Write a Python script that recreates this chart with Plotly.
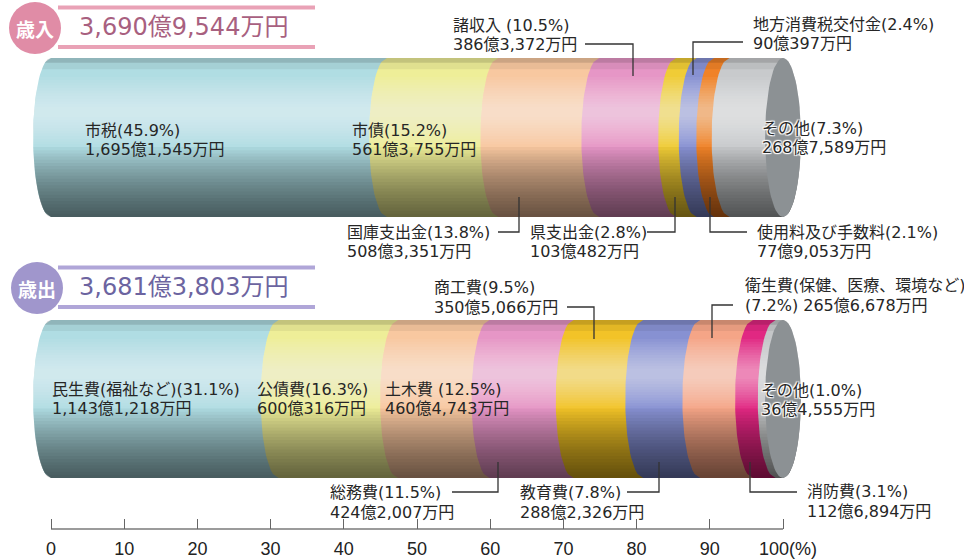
import numpy as np
import plotly.graph_objects as go

# ---------------- data ----------------
rev_title = "歳入"
rev_total = "3,690億9,544万円"
rev_names = ["市税", "市債", "国庫支出金", "諸収入 ", "県支出金", "地方消費税交付金", "使用料及び手数料", "その他"]
rev_pct = [45.9, 15.2, 13.8, 10.5, 2.8, 2.4, 2.1, 7.3]
rev_amounts = ["1,695億1,545万円", "561億3,755万円", "508億3,351万円", "386億3,372万円",
               "103億482万円", "90億397万円", "77億9,053万円", "268億7,589万円"]

exp_title = "歳出"
exp_total = "3,681億3,803万円"
exp_names = ["民生費(福祉など)", "公債費", "土木費 ", "総務費", "商工費", "教育費",
             "衛生費(保健、医療、環境など)", "消防費", "その他"]
exp_pct = [31.1, 16.3, 12.5, 11.5, 9.5, 7.8, 7.2, 3.1, 1.0]
exp_amounts = ["1,143億1,218万円", "600億316万円", "460億4,743万円", "424億2,007万円",
               "350億5,066万円", "288億2,326万円", "265億6,678万円", "112億6,894万円", "36億4,555万円"]

x_ticks = [0, 10, 20, 30, 40, 50, 60, 70, 80, 90, 100]
x_unit_label = "(%)"

# ---------------- styles / layout ----------------
W, H = 964, 559
PX0, PXU = 51.0, 7.32          # pixel of 0 %, pixels per 1 %
RX = 2.45                       # ellipse half-width (in % units)

rev_colors = ["#b0dde3", "#eeee98", "#f8c8a0", "#e696c6", "#f0cc36", "#8791d2", "#f08228", "#c8cacc"]
exp_colors = ["#b0dde3", "#eeee98", "#f8c8a0", "#e696c6", "#f2c328", "#8791d2", "#f5a587", "#e12882", "#c4c6c8"]
face_color = "#8c9194"

rev_geom = dict(yc=137.5, ry=79.5)
exp_geom = dict(yc=399.0, ry=79.0)

# label positions (px): left x, y line1, y line2, style
rev_label_pos = [(83, 130, 149, ""), (350, 130, 149, ""), (345, 232, 251, ""), (451, 25, 44, ""),
                 (528, 232, 251, ""), (751, 24, 43, ""), (755, 232, 251, ""), (760, 128, 147, "halo")]
exp_label_pos = [(50, 389, 408, ""), (255, 389, 408, ""), (383, 389, 408, ""), (328, 492, 512, ""),
                 (432, 287, 307, ""), (518, 492, 512, ""), (743, 285, 305, "split"),
                 (805, 491, 511, ""), (759, 390, 409, "halo")]
leaders = [
    [(585, 44), (633, 44), (633, 76)],
    [(498, 232), (519, 232), (519, 197)],
    [(647, 232), (675, 232), (675, 197)],
    [(743, 42), (693, 42), (693, 75)],
    [(747, 232), (710, 232), (710, 197)],
    [(567, 307), (594, 307), (594, 339)],
    [(733, 305), (712, 305), (712, 338)],
    [(797, 492), (750, 492), (750, 462)],
    [(452, 492), (498, 492), (498, 462)],
    [(627, 492), (659, 492), (659, 462)],
]

LABEL_FONT = "DejaVu Sans, Noto Sans CJK JP, sans-serif"
CJK_FONT = "Noto Sans CJK JP, sans-serif"
TICK_FONT = "Liberation Sans Narrow, Liberation Sans, sans-serif"
HALO = "1px 1px 1px #fff, -1px -1px 1px #fff, 1px -1px 1px #fff, -1px 1px 1px #fff, 0 0 2px #fff"

fig = go.Figure()


def px(xp):
    return xp / W


def arc(c, yc, ry, u0=-1.0, u1=1.0, side=-1, n=40):
    u = np.linspace(u0, u1, n)
    return c + side * RX * np.sqrt(np.clip(1 - u ** 2, 0, 1)), yc + ry * u


def add_poly(xs, ys, color):
    fig.add_trace(go.Scatter(x=list(xs) + [xs[0]], y=list(ys) + [ys[0]], mode="lines", fill="toself",
                             fillcolor=color, line=dict(width=0, color=color),
                             hoverinfo="skip", showlegend=False))


def cylinder(pcts, colors, geom):
    yc, ry = geom["yc"], geom["ry"]
    cum = np.concatenate([[0], np.cumsum(pcts)])
    total = cum[-1]
    n = len(pcts)
    for k in range(n):
        lx, ly = arc(cum[k], yc, ry)
        last = k == n - 1
        rx_, ry_ = arc(cum[k + 1] + (0 if last else 0.15), yc, ry, side=(1 if last else -1))
        add_poly(np.concatenate([lx, rx_[::-1]]), np.concatenate([ly, ry_[::-1]]), colors[k])

    def band(t0, t1, color):
        u0, u1 = 2 * t0 - 1, 2 * t1 - 1
        lx, ly = arc(0, yc, ry, u0, u1, side=-1, n=12)
        rx_, ry_ = arc(total, yc, ry, u0, u1, side=1, n=12)
        add_poly(np.concatenate([lx, rx_[::-1]]), np.concatenate([ly, ry_[::-1]]), color)

    # top rim
    band(0.0, 0.03, "rgba(0,0,0,0.18)")
    band(0.03, 0.07, "rgba(0,0,0,0.06)")
    # highlight
    for j in range(12):
        h = 0.22 - j * 0.017
        band(max(0.07, 0.34 - h), 0.34 + h, "rgba(255,255,255,0.05)")
    # bottom darkening
    for j in range(22):
        t = 0.56 + j * 0.02
        band(t, 1.0, "rgba(0,0,0,0.036)")
    # end face
    th = np.linspace(0, 2 * np.pi, 80)
    add_poly(total + RX * np.cos(th), yc + ry * np.sin(th), face_color)


cylinder(rev_pct, rev_colors, rev_geom)
cylinder(exp_pct, exp_colors, exp_geom)

# axis baseline
fig.add_trace(go.Scatter(x=[x_ticks[0], x_ticks[-1]], y=[529, 529], mode="lines",
                         line=dict(color="#7a7a7a", width=1.5), hoverinfo="skip", showlegend=False))

annotations = []
shapes = []


def text(xp, yp, s, size=16, color="#262626", family=LABEL_FONT, anchor="left", shadow=None, weight=None):
    f = dict(size=size, color=color, family=family)
    if shadow:
        f["shadow"] = shadow
    if weight:
        f["weight"] = weight
    annotations.append(dict(x=px(xp), y=yp, xref="paper", yref="y", text=s, showarrow=False,
                            xanchor=anchor, yanchor="middle", font=f))


def labels(names, pcts, amounts, pos):
    for name, p, a, (xp, y1, y2, style) in zip(names, pcts, amounts, pos):
        if style == "split":
            text(xp, y1, name)
            text(xp, y2, f"({p:.1f}%) {a}")
        else:
            sh = HALO if style == "halo" else None
            text(xp, y1, f"{name}({p:.1f}%)", shadow=sh)
            text(xp, y2, a, shadow=sh)


labels(rev_names, rev_pct, rev_amounts, rev_label_pos)
labels(exp_names, exp_pct, exp_amounts, exp_label_pos)

for pts in leaders:
    path = "M " + " L ".join(f"{px(x)},{y}" for x, y in pts)
    shapes.append(dict(type="path", path=path, xref="paper", yref="y",
                       line=dict(color="#333333", width=1.3)))


def header(title, total, y0, cx, circ, line_col, txt_col):
    for yy in (y0 + 7.5, y0 + 47):
        shapes.append(dict(type="line", xref="paper", yref="y", x0=px(58), x1=px(315), y0=yy, y1=yy,
                           line=dict(color=line_col, width=4)))
    shapes.append(dict(type="circle", xref="paper", yref="y", x0=px(cx - 26), x1=px(cx + 26),
                       y0=y0 + 2, y1=y0 + 54, fillcolor=circ, line=dict(width=0)))
    text(cx, y0 + 28, title, size=19, color="white", family=CJK_FONT, anchor="center", weight="bold")
    text(77, y0 + 27, total, size=24, color=txt_col, family=LABEL_FONT)


header(rev_title, rev_total, 0, 35, "#e08ca6", "#e9a2b6", "#a8607f")
header(exp_title, exp_total, 260, 37, "#a096cc", "#b0a6d8", "#6c64a0")

# 100(%) label
annotations.append(dict(x=px(757), y=549, xref="paper", yref="y", text=f"{x_ticks[-1]}{x_unit_label}",
                        showarrow=False, xanchor="left", yanchor="middle",
                        font=dict(size=18, color="#222", family=TICK_FONT)))

fig.update_layout(
    width=W, height=H, margin=dict(l=0, r=0, t=0, b=0),
    paper_bgcolor="white", plot_bgcolor="white",
    xaxis=dict(range=[-PX0 / PXU, (W - PX0) / PXU], domain=[0, 1], anchor="free", position=1 - 529 / H,
               tickvals=x_ticks, ticktext=[str(v) for v in x_ticks[:-1]] + [""],
               ticks="inside", ticklen=10, tickcolor="#666", tickwidth=1,
               showgrid=False, zeroline=False, showline=False, ticklabelstandoff=7,
               tickfont=dict(size=18, color="#222", family=TICK_FONT),
               fixedrange=True),
    yaxis=dict(range=[H, 0], domain=[0, 1], visible=False, fixedrange=True),
    annotations=annotations, shapes=shapes, showlegend=False,
)

fig.write_html("out.html")
